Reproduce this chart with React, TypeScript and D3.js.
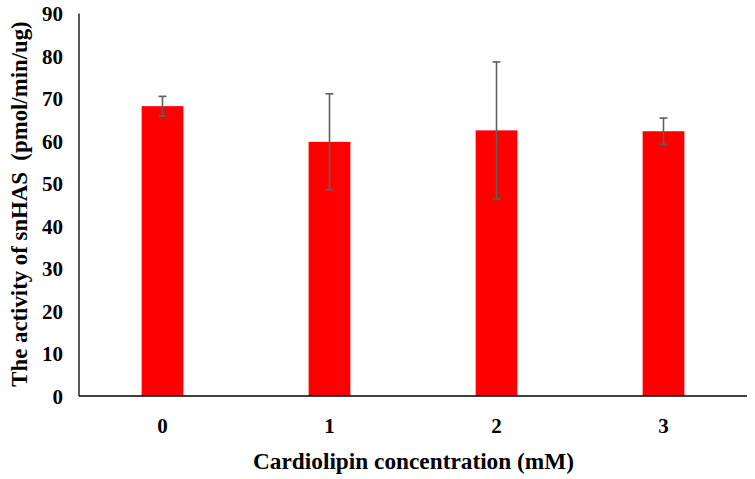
import React from "react";
import * as d3 from "d3";

const categories = ["0", "1", "2", "3"];
const values = [68.2, 59.8, 62.5, 62.3];
const errors = [2.3, 11.3, 16.1, 3.1];
const yTicks = [0, 10, 20, 30, 40, 50, 60, 70, 80, 90];

const W = 755;
const H = 479;
const left = 79;
const right = 747;
const top = 13.5;
const bottom = 396;
const font = "'Liberation Serif', 'Times New Roman', serif";

export default function App() {
  const x = d3
    .scaleBand<string>()
    .domain(categories)
    .range([left, right])
    .paddingInner(0.75)
    .paddingOuter(0.375);
  const y = d3.scaleLinear().domain([0, 90]).range([bottom, top]);
  const bw = x.bandwidth();
  const capW = 8;

  return (
    <svg
      width={W}
      height={H}
      style={{ position: "absolute", left: 0, top: 0, background: "#fff" }}
    >
      {categories.map((c, i) => (
        <rect
          key={c}
          x={x(c)}
          y={y(values[i])}
          width={bw}
          height={bottom - y(values[i])}
          fill="#ff0000"
        />
      ))}
      {categories.map((c, i) => {
        const cx = (x(c) as number) + bw / 2;
        const y1 = y(values[i] + errors[i]);
        const y2 = y(values[i] - errors[i]);
        return (
          <g key={"e" + c} stroke="#5f5f5f" strokeWidth={1.6}>
            <line x1={cx} x2={cx} y1={y1} y2={y2} />
            <line x1={cx - capW / 2} x2={cx + capW / 2} y1={y1} y2={y1} />
            <line x1={cx - capW / 2} x2={cx + capW / 2} y1={y2} y2={y2} />
          </g>
        );
      })}
      <line x1={left} x2={left} y1={y(90)} y2={bottom} stroke="#000" strokeWidth={1.3} />
      <line x1={left} x2={right} y1={bottom} y2={bottom} stroke="#000" strokeWidth={1.3} />
      {yTicks.map((t) => (
        <text
          key={t}
          x={63}
          y={y(t) + 7.5}
          textAnchor="end"
          fontFamily={font}
          fontWeight="bold"
          fontSize={21}
          fill="#000"
        >
          {t}
        </text>
      ))}
      {categories.map((c) => (
        <text
          key={"x" + c}
          x={(x(c) as number) + bw / 2}
          y={433}
          textAnchor="middle"
          fontFamily={font}
          fontWeight="bold"
          fontSize={21}
          fill="#000"
        >
          {c}
        </text>
      ))}
      <text
        x={413.5}
        y={469}
        textAnchor="middle"
        fontFamily={font}
        fontWeight="bold"
        fontSize={23.3}
        fill="#000"
      >
        Cardiolipin concentration (mM)
      </text>
      <text
        transform={`translate(27, 204) rotate(-90)`}
        textAnchor="middle"
        fontFamily={font}
        fontWeight="bold"
        fontSize={22.8}
        fill="#000"
        style={{ whiteSpace: "pre" }}
      >
        {"The activity of snHAS  (pmol/min/ug)"}
      </text>
    </svg>
  );
}
